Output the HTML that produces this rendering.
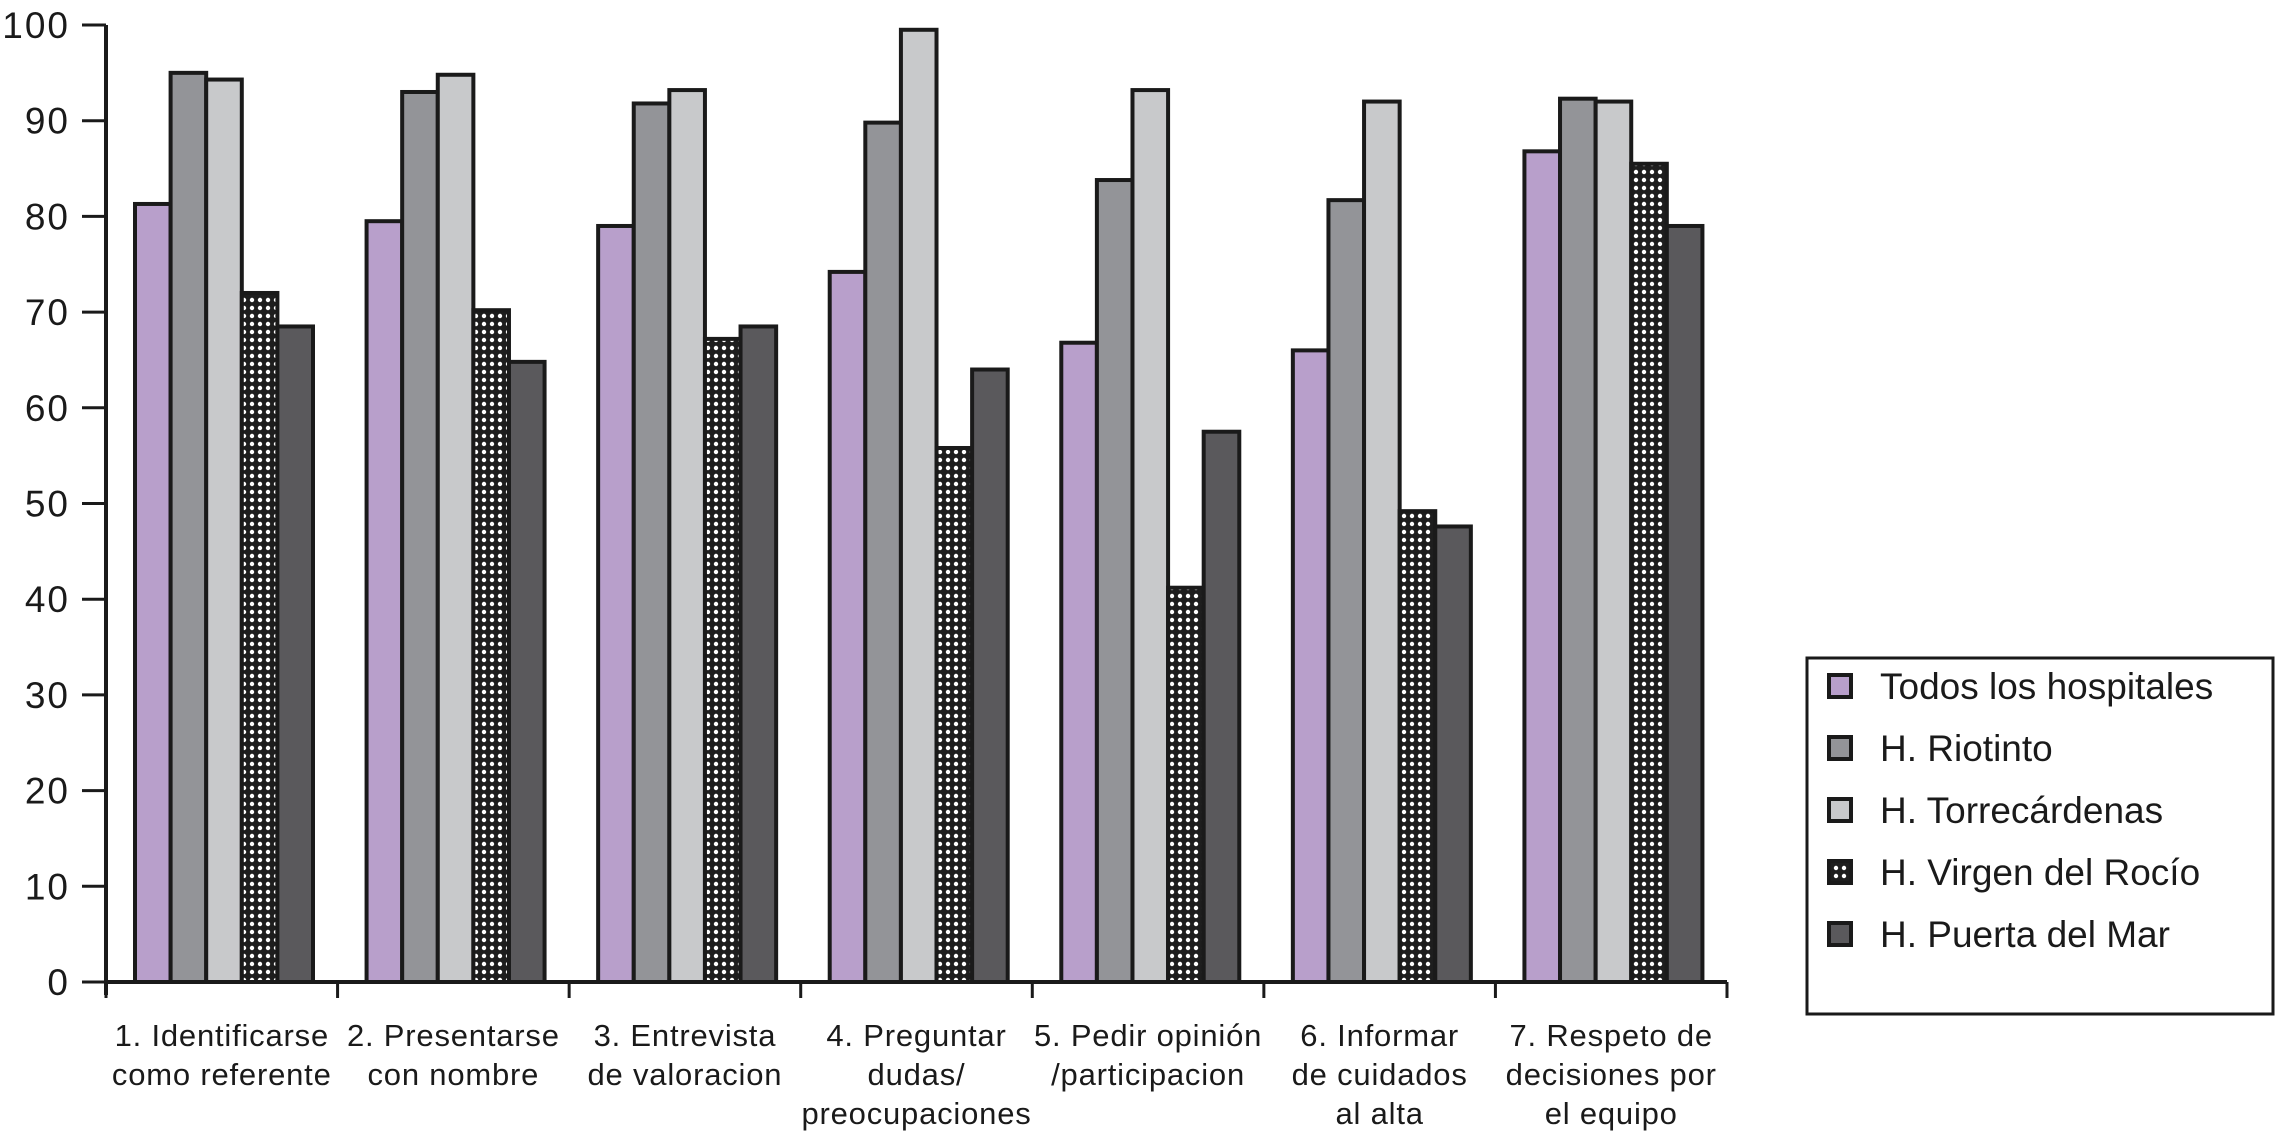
<!DOCTYPE html>
<html><head><meta charset="utf-8"><style>
html,body{margin:0;padding:0;background:#fff;}
svg text{font-family:"Liberation Sans",sans-serif;fill:#1a1a1a;}
</style></head><body>
<svg id="chart" width="2279" height="1137" viewBox="0 0 2279 1137" xmlns="http://www.w3.org/2000/svg">
<defs>
<pattern id="dots" width="8" height="8" patternUnits="userSpaceOnUse">
<rect width="8" height="8" fill="#1e1e1e"/>
<circle cx="4" cy="4" r="2.2" fill="#fff"/>
</pattern>
</defs>
<g id="plot"></g>
</svg>
<script>
const categories = [
  ["1. Identificarse","como referente"],
  ["2. Presentarse","con nombre"],
  ["3. Entrevista","de valoracion"],
  ["4. Preguntar","dudas/","preocupaciones"],
  ["5. Pedir opinión","/participacion"],
  ["6. Informar","de cuidados","al alta"],
  ["7. Respeto de","decisiones por","el equipo"]
];
const seriesNames = ["Todos los hospitales","H. Riotinto","H. Torrecárdenas","H. Virgen del Rocío","H. Puerta del Mar"];
const todos = [81.3, 79.5, 79, 74.2, 66.8, 66, 86.8];
const riotinto = [95, 93, 91.8, 89.8, 83.8, 81.7, 92.3];
const torrecardenas = [94.3, 94.8, 93.2, 99.5, 93.2, 92, 92];
const virgen = [72, 70.2, 67.2, 55.8, 41.2, 49.2, 85.5];
const puerta = [68.5, 64.8, 68.5, 64, 57.5, 47.6, 79];
const yTicks = [0,10,20,30,40,50,60,70,80,90,100];

const series = [todos, riotinto, torrecardenas, virgen, puerta];
const fills = ["#b89fcb","#939498","#c8c9cb","url(#dots)","#5a595c"];
const NS = "http://www.w3.org/2000/svg";
const g = document.getElementById("plot");
const x0 = 106, x1 = 1727, y0 = 982, yTop = 25;
const groupW = (x1 - x0) / categories.length;
const barW = 35.6;
const y = v => y0 - (v / 100) * (y0 - yTop);
const gx = i => x0 + i * groupW;
function el(tag, attrs, parent){const e=document.createElementNS(NS,tag);for(const k in attrs)e.setAttribute(k,attrs[k]);(parent||g).appendChild(e);return e;}

series.forEach((vals, s) => {
  vals.forEach((v, i) => {
    const r = el("rect",{x:gx(i)+29+s*barW, y:y(v), width:barW, height:y0-y(v), fill:fills[s], stroke:"#1a1a1a","stroke-width":4});
    
    
  });
});
const ya = el("line",{x1:x0,y1:yTop,x2:x0,y2:y0+13,stroke:"#1a1a1a","stroke-width":4});


yTicks.forEach(t => {
  const tl = el("line",{x1:x0-24,y1:y(t),x2:x0,y2:y(t),stroke:"#1a1a1a","stroke-width":3});
  
  
  const tx = el("text",{x:x0-36,y:y(t)+13,"text-anchor":"end","font-size":37,"letter-spacing":"2"});
  tx.textContent = t;
  
  
});
const xa = el("line",{x1:x0,y1:y0,x2:x1,y2:y0,stroke:"#1a1a1a","stroke-width":4});


for (let i=0;i<=categories.length;i++){
  const tl = el("line",{x1:gx(i),y1:y0,x2:gx(i),y2:y0+16,stroke:"#1a1a1a","stroke-width":3});
  
  
}
categories.forEach((lines,i) => {
  const t = el("text",{x:gx(i)+groupW/2,y:1046,"text-anchor":"middle","font-size":31,"letter-spacing":"0.8"});
  
  
  lines.forEach((ln,j)=>{const ts=el("tspan",{x:gx(i)+groupW/2,dy:j?39:0},t);ts.textContent=ln;});
});
const lg = el("g",{});


el("rect",{x:1807,y:658,width:466,height:356,fill:"#fff",stroke:"#1a1a1a","stroke-width":3},lg);
const ly = [686,748,810,872,934];
seriesNames.forEach((n,s)=>{
  const e = el("g",{},lg);
  
  
  el("rect",{x:1829,y:ly[s]-11,width:22,height:22,fill:fills[s],stroke:"#1a1a1a","stroke-width":4},e);
  const t = el("text",{x:1880,y:ly[s]+13,"font-size":37},e);
  t.textContent = n;
});
</script>
</body></html>
